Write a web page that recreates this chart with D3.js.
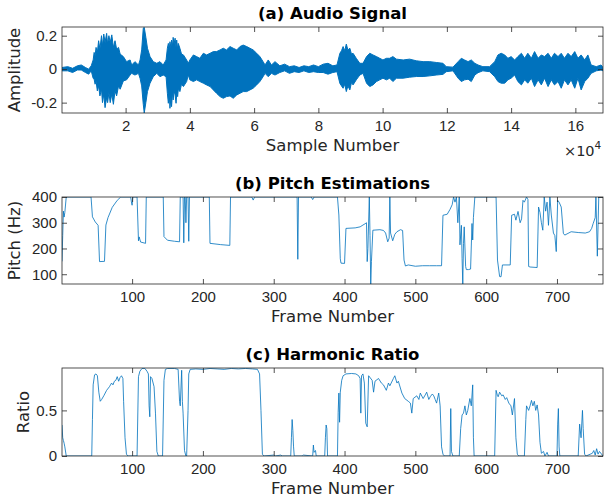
<!DOCTYPE html>
<html>
<head>
<meta charset="utf-8">
<script src="https://cdn.jsdelivr.net/npm/d3@7"></script>
<style>
body { margin: 0; background: #fff; }
svg { display: block; font-family: "DejaVu Sans", sans-serif; }
.tick text { fill: #262626; font-size: 15px; }
.tick line { stroke: #262626; stroke-width: 0.8; }
.box { fill: none; stroke: #262626; stroke-width: 0.8; }
.title { font-weight: bold; font-size: 16.5px; fill: #000; }
.lab { font-size: 16.5px; fill: #262626; }
</style>
</head>
<body>
<div id="chart"></div>
<script>
// (a) audio signal, read as an envelope: position (x10^4 samples), upper and lower amplitude
var audioPos = [0.02,0.2,0.35,0.5,0.62,0.75,0.85,0.93,0.99,1.02,1.05,1.08,1.12,1.16,1.2,1.25,1.28,1.32,1.36,1.41,1.44,1.48,1.52,1.57,1.62,1.67,1.72,1.78,1.83,1.93,2.03,2.14,2.19,2.29,2.4,2.45,2.5,2.55,2.58,2.63,2.68,2.76,2.86,2.97,3.07,3.17,3.26,3.3,3.33,3.36,3.38,3.41,3.43,3.46,3.48,3.51,3.54,3.57,3.59,3.62,3.64,3.69,3.74,3.8,3.9,3.95,4.0,4.11,4.21,4.31,4.42,4.52,4.63,4.73,4.83,4.94,5.04,5.14,5.25,5.35,5.46,5.56,5.66,5.77,5.87,5.97,6.08,6.18,6.28,6.34,6.44,6.54,6.65,6.8,6.95,7.1,7.25,7.4,7.55,7.7,7.85,8.0,8.15,8.3,8.45,8.58,8.67,8.72,8.77,8.82,8.87,8.92,8.98,9.03,9.08,9.18,9.29,9.39,9.5,9.6,9.7,9.81,9.91,10.01,10.12,10.22,10.32,10.43,10.64,10.84,11.05,11.26,11.47,11.67,11.88,11.98,12.19,12.35,12.45,12.55,12.66,12.76,12.87,12.97,13.12,13.33,13.49,13.59,13.69,13.8,13.9,14.0,14.11,14.21,14.32,14.42,14.52,14.63,14.73,14.84,14.94,15.04,15.15,15.25,15.35,15.46,15.56,15.66,15.77,15.87,15.98,16.08,16.18,16.29,16.39,16.49,16.65,16.8,16.86];
var audioHi = [0.01,0.015,0.005,0.02,0.025,0.01,0.0,0.02,0.055,0.1,0.08,0.13,0.1,0.17,0.12,0.2,0.14,0.21,0.16,0.214,0.15,0.2,0.16,0.205,0.13,0.17,0.12,0.13,0.09,0.075,0.045,0.055,0.025,0.045,0.025,0.055,0.115,0.245,0.25,0.19,0.125,0.075,0.045,0.035,0.045,0.025,0.055,0.125,0.154,0.12,0.164,0.13,0.174,0.14,0.19,0.15,0.185,0.13,0.174,0.12,0.154,0.125,0.09,0.085,0.055,0.035,0.055,0.085,0.075,0.065,0.095,0.085,0.095,0.105,0.105,0.115,0.125,0.115,0.135,0.125,0.115,0.135,0.144,0.135,0.125,0.115,0.095,0.075,0.045,0.025,0.055,0.025,0.045,0.02,0.03,0.015,0.02,0.01,0.02,0.015,0.025,0.015,0.03,0.035,0.02,0.025,0.095,0.11,0.135,0.11,0.15,0.115,0.125,0.09,0.095,0.065,0.035,0.035,0.075,0.095,0.085,0.075,0.065,0.055,0.065,0.065,0.075,0.06,0.055,0.06,0.05,0.045,0.045,0.04,0.035,0.015,0.012,0.045,0.065,0.055,0.045,0.055,0.035,0.025,0.015,0.015,0.045,0.085,0.095,0.085,0.065,0.075,0.055,0.075,0.095,0.065,0.095,0.065,0.105,0.065,0.085,0.075,0.095,0.065,0.095,0.075,0.095,0.065,0.095,0.075,0.105,0.065,0.085,0.055,0.085,0.025,0.015,0.025,0.01];
var audioLo = [-0.01,-0.01,-0.02,-0.005,-0.005,-0.02,-0.03,-0.01,-0.055,-0.06,-0.09,-0.07,-0.13,-0.1,-0.16,-0.12,-0.2,-0.15,-0.23,-0.17,-0.2,-0.14,-0.2,-0.15,-0.21,-0.13,-0.16,-0.1,-0.12,-0.07,-0.064,-0.035,-0.025,-0.035,-0.025,-0.055,-0.1,-0.21,-0.262,-0.2,-0.134,-0.084,-0.045,-0.025,-0.045,-0.035,-0.045,-0.144,-0.204,-0.15,-0.234,-0.17,-0.224,-0.14,-0.184,-0.13,-0.154,-0.204,-0.15,-0.164,-0.12,-0.134,-0.09,-0.104,-0.074,-0.035,-0.064,-0.074,-0.064,-0.074,-0.084,-0.094,-0.104,-0.124,-0.144,-0.164,-0.174,-0.164,-0.16,-0.174,-0.154,-0.144,-0.134,-0.134,-0.124,-0.114,-0.094,-0.074,-0.045,-0.025,-0.045,-0.025,-0.035,-0.02,-0.01,-0.025,-0.015,-0.02,-0.01,-0.02,-0.015,-0.02,-0.02,-0.03,-0.02,-0.015,-0.085,-0.1,-0.114,-0.09,-0.134,-0.1,-0.124,-0.08,-0.094,-0.064,-0.035,-0.025,-0.084,-0.104,-0.094,-0.074,-0.064,-0.054,-0.064,-0.054,-0.074,-0.054,-0.054,-0.048,-0.044,-0.044,-0.04,-0.035,-0.031,-0.015,-0.01,-0.054,-0.074,-0.064,-0.06,-0.074,-0.035,-0.021,-0.01,-0.015,-0.045,-0.074,-0.084,-0.084,-0.064,-0.054,-0.035,-0.074,-0.094,-0.064,-0.084,-0.054,-0.104,-0.064,-0.094,-0.054,-0.104,-0.064,-0.094,-0.074,-0.114,-0.064,-0.094,-0.064,-0.114,-0.054,-0.124,-0.074,-0.054,-0.025,-0.01,-0.005,-0.01];
var audioTicks = [2,4,6,8,10,12,14,16];
var audioYTicks = [-0.2,0,0.2];

// (b) pitch estimate, breakpoints: frame number and pitch (Hz)
var pitchFrame = [1,2,3,4,5,7,42,44,48,52,54,61,63,66,72,79,84,98,99,100,101,107,109,110,112,119,120,144,145,150,160,167,168,172,173,174,175,176,177,179,180,181,209,210,225,238,239,269,271,273,333,334,335,353,355,357,390,392,394,395,400,402,415,422,426,429,431,432,433,435,436,437,438,440,450,455,458,461,463,464,465,468,471,474,479,482,484,486,490,500,510,520,530,537,539,545,549,552,554,556,558,560,562,563,565,566,567,568,569,571,572,575,578,580,581,582,584,614,616,619,621,623,634,636,640,642,645,648,650,652,654,657,659,660,662,672,674,676,678,680,682,684,686,688,690,692,695,697,699,701,703,706,709,711,720,730,740,746,749,751,754,755,757,759,765];
var pitchHz = [150,250,345,322,340,400,400,323,303,290,149,150,291,320,360,387,400,400,381,368,400,400,230,245,225,220,400,400,246,232,228,226,400,400,222,400,400,300,400,400,228,400,400,220,215,212,400,400,388,400,400,158,400,400,390,400,400,330,160,143,142,278,280,284,291,296,300,149,200,400,250,62,150,271,273,270,260,226,240,400,260,230,255,265,273,270,155,132,136,131,133,133,133,133,329,333,352,370,400,380,400,300,400,214,290,160,62,220,284,130,118,118,120,297,233,320,400,400,155,91,90,136,136,329,333,310,344,300,315,387,380,400,390,130,128,126,361,340,300,271,400,345,380,290,400,330,260,250,188,387,380,361,259,252,265,262,260,265,278,296,320,400,170,400,400];
var frameTicks = [100,200,300,400,500,600,700];
var pitchYTicks = [100,200,300,400];

// (c) harmonic ratio, breakpoints: frame number and ratio
var ratioFrame = [1,2,3,4,5,7,43,44,45,47,49,51,53,55,57,60,64,68,71,73,75,77,79,81,83,85,87,88,90,92,94,107,109,111,114,118,121,123,124,125,126,128,131,133,135,137,143,145,147,150,160,165,167,168,170,171,172,174,176,177,179,180,182,190,200,210,220,230,240,250,260,270,277,280,282,284,286,300,302,310,312,324,325,326,327,328,329,340,342,355,356,357,359,360,372,373,374,375,376,390,391,392,393,394,396,398,402,410,416,420,422,423,424,426,428,430,432,434,439,441,443,448,452,455,459,462,464,469,471,474,476,481,485,490,493,495,497,502,505,507,511,514,516,519,521,524,526,528,530,533,535,537,539,541,549,550,551,553,562,564,566,568,570,572,574,577,579,581,582,583,612,614,616,617,619,622,624,627,629,632,635,637,640,642,644,646,654,656,657,660,662,664,666,668,670,672,674,676,678,681,683,686,688,700,701,702,703,704,730,732,734,736,737,739,741,750,752,754,756,758,760,765];
var ratioVal = [0.34,0.2,0.17,0.14,0.1,0,0,0.4,0.78,0.89,0.9,0.88,0.7,0.6,0.62,0.66,0.72,0.76,0.8,0.78,0.82,0.83,0.87,0.82,0.86,0.88,0.85,0.6,0.2,0.02,0,0,0.87,0.93,0.96,0.96,0.93,0.9,0.55,0.43,0.87,0.85,0.76,0.47,0.05,0,0,0.83,0.95,0.96,0.96,0.95,0.6,0.55,0.94,0.6,0.47,0.06,0,0,0.5,0.9,0.95,0.955,0.95,0.96,0.955,0.95,0.96,0.955,0.96,0.955,0.95,0.9,0.5,0.02,0,0.01,0,0.01,0,0,0.2,0.4,0.28,0.1,0,0,0.01,0,0.12,0.04,0.06,0,0,0.2,0.34,0.3,0,0,0.48,0.69,0.37,0.7,0.83,0.88,0.9,0.905,0.9,0.88,0.85,0.47,0.88,0.9,0.8,0.36,0.32,0.88,0.83,0.7,0.82,0.85,0.8,0.78,0.72,0.8,0.77,0.85,0.88,0.8,0.82,0.69,0.63,0.6,0.58,0.47,0.63,0.66,0.62,0.69,0.63,0.67,0.7,0.62,0.65,0.68,0.66,0.62,0.58,0.69,0.55,0.1,0.02,0,0,0.52,0.05,0,0,0.3,0.45,0.47,0.55,0.45,0.5,0.63,0.55,0.78,0.2,0,0,0.72,0.66,0.65,0.7,0.66,0.67,0.62,0.64,0.58,0.55,0.45,0.63,0.2,0.02,0,0,0.4,0.55,0.5,0.55,0.61,0.55,0.6,0.5,0.56,0.45,0.15,0.03,0.05,0,0.04,0,0,0.35,0.52,0.1,0,0,0.35,0.2,0.5,0.3,0.02,0,0.03,0.06,0.01,0.08,0.02,0.05,0];
var ratioYTicks = [0,0.5];

var w = 605, h = 502;
var left = 62, right = 603;
var blue = "#0072BD";

var svg = d3.select("#chart").append("svg")
    .attr("width", w)
    .attr("height", h);

function fmt(d) { return String(d).replace("\u2212", "-"); }

// draws the box, ticks on all four sides, title and labels; returns the clipped plot group
function panel(id, top, bottom, xScale, yScale, xTicks, xFmt, yTicks, yFmt, title, xLabel, yLabel, yLabelX) {
    var g = svg.append("g");

    g.append("clipPath").attr("id", id)
        .append("rect")
        .attr("x", left).attr("y", top)
        .attr("width", right - left).attr("height", bottom - top);

    var plot = g.append("g").attr("clip-path", "url(#" + id + ")");

    var axes = [
        [d3.axisBottom(xScale).tickValues(xTicks).tickFormat(xFmt).tickPadding(7), "translate(0," + bottom + ")"],
        [d3.axisTop(xScale).tickValues(xTicks).tickFormat(""), "translate(0," + top + ")"],
        [d3.axisLeft(yScale).tickValues(yTicks).tickFormat(yFmt).tickPadding(5), "translate(" + left + ",0)"],
        [d3.axisRight(yScale).tickValues(yTicks).tickFormat(""), "translate(" + right + ",0)"]
    ];
    axes.forEach(function(a) {
        var ax = g.append("g")
            .attr("transform", a[1])
            .call(a[0].tickSizeInner(-5).tickSizeOuter(0));
        ax.select(".domain").remove();
        ax.selectAll("text").attr("font-family", null).attr("font-size", null);
    });

    g.append("rect").attr("class", "box")
        .attr("x", left).attr("y", top)
        .attr("width", right - left).attr("height", bottom - top);

    g.append("text").attr("class", "title")
        .attr("x", (left + right) / 2).attr("y", top - 8)
        .attr("text-anchor", "middle")
        .text(title);

    g.append("text").attr("class", "lab")
        .attr("x", (left + right) / 2).attr("y", bottom + 38)
        .attr("text-anchor", "middle")
        .text(xLabel);

    g.append("text").attr("class", "lab")
        .attr("transform", "translate(" + yLabelX + "," + (top + bottom) / 2 + ") rotate(-90)")
        .attr("text-anchor", "middle")
        .text(yLabel);

    return plot;
}

// (a) Audio Signal
var audioData = audioPos.map(function(p, i) { return { pos: p, hi: audioHi[i], lo: audioLo[i] }; });
var xA = d3.scaleLinear().domain([0.02, 16.86]).range([left, right]);
var yA = d3.scaleLinear().domain([-0.262, 0.252]).range([113, 27]);
var plotA = panel("clipA", 27, 113, xA, yA, audioTicks, function(d) { return d; },
    audioYTicks, function(d) { return fmt(d3.format("")(d)); },
    "(a) Audio Signal", "Sample Number", "Amplitude", 20);

var area = d3.area()
    .x(function(d) { return xA(d.pos); })
    .y0(function(d) { return yA(d.lo); })
    .y1(function(d) { return yA(d.hi); });

plotA.append("path")
    .datum(audioData)
    .attr("d", area)
    .attr("fill", blue)
    .attr("stroke", blue)
    .attr("stroke-width", 1);

// x10^4 exponent
var expo = svg.append("text")
    .attr("x", 564).attr("y", 155.5)
    .attr("fill", "#262626")
    .attr("font-size", "14.5px");
expo.append("tspan").text("\u00d710");
expo.append("tspan").attr("dy", -6.5).attr("font-size", "10.5px").text("4");

// (b) Pitch Estimations
var pitchData = pitchFrame.map(function(f, i) { return { frame: f, v: pitchHz[i] }; });
var xB = d3.scaleLinear().domain([1, 765]).range([left, right]);
var yB = d3.scaleLinear().domain([62, 400]).range([284, 197]);
var plotB = panel("clipB", 197, 284, xB, yB, frameTicks, function(d) { return d; },
    pitchYTicks, function(d) { return d; },
    "(b) Pitch Estimations", "Frame Number", "Pitch (Hz)", 20);

var lineB = d3.line()
    .x(function(d) { return xB(d.frame); })
    .y(function(d) { return yB(d.v); });

plotB.append("path")
    .datum(pitchData)
    .attr("d", lineB)
    .attr("fill", "none")
    .attr("stroke", blue)
    .attr("stroke-opacity", 0.8)
    .attr("stroke-width", 1);

// (c) Harmonic Ratio
var ratioData = ratioFrame.map(function(f, i) { return { frame: f, v: ratioVal[i] }; });
var xC = d3.scaleLinear().domain([1, 765]).range([left, right]);
var yC = d3.scaleLinear().domain([0, 0.965]).range([456, 368]);
var plotC = panel("clipC", 368, 456, xC, yC, frameTicks, function(d) { return d; },
    ratioYTicks, function(d) { return d; },
    "(c) Harmonic Ratio", "Frame Number", "Ratio", 29);

var lineC = d3.line()
    .x(function(d) { return xC(d.frame); })
    .y(function(d) { return yC(d.v); });

plotC.append("path")
    .datum(ratioData)
    .attr("d", lineC)
    .attr("fill", "none")
    .attr("stroke", blue)
    .attr("stroke-opacity", 0.8)
    .attr("stroke-width", 1);
</script>
</body>
</html>
